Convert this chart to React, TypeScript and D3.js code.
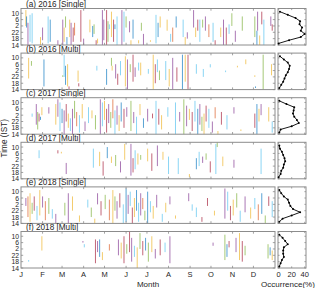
import * as d3 from 'd3'

type Seg = [number, number, number, number] // day, start hour, end hour, colour index

const monthLabels = ['J', 'F', 'M', 'A', 'M', 'J', 'J', 'A', 'S', 'O', 'N', 'D']
const monthStarts = [0, 31, 59, 90, 120, 151, 181, 212, 243, 273, 304, 334]
const hourTicks = [34, 30, 26, 22, 18, 14]
const occTicks = [0, 20, 40]
const panelTitles = [
  '(a) 2016 [Single]',
  '(b) 2016 [Multi]',
  '(c) 2017 [Single]',
  '(d) 2017 [Multi]',
  '(e) 2018 [Single]',
  '(f) 2018 [Multi]',
]
const colors = ['#0072BD', '#D95319', '#EDB120', '#7E2F8E', '#77AC30', '#4DBEEE', '#A2142F']

// occurrence profiles (%), hours 11 ... 15 IST going down the axis
const profileHours = [35, 33, 31, 29, 27, 25, 23, 21, 19, 17, 15]
const profileA = [2, 14, 26, 33, 32, 36, 34, 40, 34, 16, 0]
const profileB = [2, 8, 14, 17, 16, 14, 11, 9, 7, 4, 1]
const profileC = [1, 12, 24, 23, 22, 24, 28, 31, 20, 3, 1]
const profileD = [1, 2, 5, 7, 9, 10, 8, 7, 4, 3, 0]
const profileE = [1, 4, 8, 14, 16, 18, 22, 33, 20, 6, 1]
const profileF = [1, 6, 10, 14, 8, 7, 7, 8, 5, 3, 1]

const eventsA: Seg[] = [
  [7, 26, 36, 2], [8, 25, 32, 0], [10, 14, 28, 3], [13, 16, 33, 5], [16, 15, 34, 5],
  [28, 14, 19, 2], [31, 17, 25, 3], [39, 15, 32, 5], [42, 16, 30, 0], [53, 14, 17, 3],
  [60, 14, 30, 3], [62, 16, 25, 2], [64, 25, 32, 4], [66, 14, 19, 0], [70, 19, 30, 2],
  [72, 14, 28, 3], [75, 16, 25, 6], [77, 20, 28, 1], [86, 16, 36, 6], [90, 14, 18, 3],
  [99, 22, 30, 2], [103, 19, 26, 0], [105, 21, 27, 4], [108, 14, 17, 6], [110, 15, 18, 2],
  [117, 14, 36, 3], [119, 17, 30, 3], [123, 14, 36, 6], [125, 16, 29, 4], [127, 24, 27, 5],
  [130, 19, 35, 2], [133, 16, 30, 6], [135, 24, 27, 0], [138, 14, 32, 5], [145, 14, 36, 3],
  [148, 16, 35, 5], [151, 25, 32, 4], [156, 22, 29, 3], [158, 14, 17, 2], [161, 18, 30, 0],
  [169, 15, 17, 2], [173, 23, 28, 4], [176, 14, 21, 3], [186, 16, 17, 2], [194, 15, 33, 5],
  [197, 19, 28, 0], [200, 25, 32, 2], [210, 23, 30, 2], [215, 16, 21, 5], [218, 16, 25, 1],
  [223, 25, 32, 0], [233, 19, 30, 5], [236, 14, 19, 2], [239, 18, 22, 3], [248, 25, 36, 3],
  [251, 19, 25, 2], [254, 23, 30, 6], [257, 16, 30, 5], [261, 25, 30, 4], [265, 23, 32, 3],
  [270, 19, 27, 1], [276, 16, 28, 5], [279, 14, 17, 6], [287, 19, 25, 2], [291, 14, 30, 3],
  [295, 14, 25, 6], [299, 21, 27, 5], [303, 26, 34, 4], [308, 16, 23, 3], [318, 23, 32, 4],
  [336, 19, 32, 4], [339, 14, 23, 0], [340, 23, 35, 3], [343, 14, 20, 2], [346, 27, 35, 6],
  [349, 14, 30, 5], [359, 26, 32, 3], [361, 23, 27, 6],
]

const eventsB: Seg[] = [
  [11, 21, 34, 2], [15, 29, 32, 4], [33, 16, 33, 0], [60, 22, 23, 4], [62, 22, 36, 5],
  [64, 17, 29, 0], [67, 16, 30, 2], [69, 14, 16, 6], [82, 19, 26, 2], [83, 16, 18, 6],
  [109, 26, 29, 5], [123, 17, 27, 0], [130, 29, 34, 4], [131, 26, 29, 2], [136, 21, 30, 3],
  [139, 17, 24, 6], [143, 23, 32, 5], [150, 16, 35, 2], [153, 14, 33, 3], [157, 25, 30, 4],
  [161, 19, 36, 6], [164, 22, 28, 3], [169, 26, 31, 5], [172, 23, 31, 2], [183, 24, 27, 5],
  [190, 14, 36, 2], [193, 18, 30, 6], [196, 25, 33, 5], [199, 20, 26, 4], [208, 20, 32, 5],
  [213, 16, 27, 2], [218, 14, 34, 3], [224, 19, 28, 6], [232, 14, 36, 0], [236, 19, 36, 2],
  [240, 14, 36, 6], [252, 24, 30, 5], [262, 22, 27, 5], [272, 28, 30, 5], [294, 25, 26, 5],
  [311, 28, 29, 2], [323, 30, 33, 2], [336, 22, 23, 2], [337, 15, 16, 0], [348, 14, 36, 4],
  [360, 23, 30, 2],
]

const eventsC: Seg[] = [
  [16, 25, 27, 5], [22, 20, 33, 3], [24, 17, 28, 4], [26, 22, 27, 6], [28, 23, 25, 0],
  [30, 26, 31, 2], [40, 27, 31, 3], [50, 20, 33, 2], [53, 25, 36, 3], [56, 16, 34, 5],
  [59, 21, 30, 0], [62, 14, 29, 3], [65, 22, 33, 6], [68, 18, 27, 2], [71, 16, 24, 5],
  [74, 14, 30, 3], [77, 24, 35, 4], [80, 19, 28, 1], [84, 15, 26, 5], [88, 24, 33, 2],
  [92, 16, 22, 3], [97, 21, 31, 5], [102, 24, 29, 2], [107, 17, 26, 4], [114, 14, 36, 3],
  [117, 19, 34, 5], [120, 23, 35, 2], [123, 15, 30, 6], [126, 21, 33, 3], [129, 18, 28, 4],
  [132, 24, 36, 1], [135, 14, 29, 5], [138, 20, 32, 3], [141, 16, 26, 2], [144, 22, 34, 0],
  [148, 18, 30, 6], [152, 25, 31, 3], [158, 16, 35, 4], [162, 21, 28, 3], [166, 14, 25, 5],
  [171, 26, 33, 2], [176, 18, 24, 0], [182, 22, 30, 3], [189, 24, 27, 6], [194, 14, 35, 5],
  [198, 20, 30, 6], [202, 17, 26, 2], [211, 25, 31, 5], [222, 14, 34, 5], [228, 22, 28, 3],
  [234, 14, 36, 4], [238, 19, 32, 3], [242, 23, 30, 2], [246, 16, 28, 6], [250, 22, 35, 5],
  [254, 14, 30, 0], [257, 20, 33, 3], [260, 16, 25, 4], [263, 14, 27, 2], [266, 22, 32, 6],
  [270, 18, 30, 5], [275, 15, 22, 3], [279, 24, 31, 1], [283, 14, 16, 2], [288, 20, 28, 6],
  [296, 17, 26, 5], [306, 27, 31, 3], [316, 16, 17, 2], [336, 18, 27, 6], [339, 14, 33, 0],
  [342, 22, 30, 2], [345, 26, 33, 3], [356, 22, 31, 2], [361, 15, 22, 5],
]

const eventsD: Seg[] = [
  [26, 27, 32, 5], [53, 30, 32, 6], [58, 30, 31, 2], [65, 17, 24, 3], [104, 21, 33, 5],
  [113, 22, 31, 2], [118, 16, 25, 6], [124, 27, 34, 0], [130, 24, 28, 2], [136, 22, 29, 4],
  [143, 18, 25, 3], [149, 26, 36, 2], [158, 16, 36, 3], [161, 18, 27, 6], [164, 20, 32, 5],
  [168, 23, 30, 2], [172, 26, 29, 4], [182, 25, 33, 2], [188, 19, 30, 6], [196, 22, 35, 3],
  [204, 26, 31, 2], [212, 17, 28, 5], [226, 17, 27, 5], [242, 15, 17, 2], [252, 20, 27, 0],
  [256, 22, 31, 5], [261, 24, 28, 3], [266, 26, 30, 4], [272, 18, 25, 6], [280, 17, 36, 5],
  [282, 34, 37, 4], [290, 22, 28, 2], [306, 21, 26, 3], [345, 17, 33, 5],
]

const eventsE: Seg[] = [
  [7, 25, 30, 3], [10, 18, 31, 1], [13, 15, 33, 2], [16, 20, 27, 4], [19, 22, 31, 6],
  [23, 16, 25, 5], [27, 19, 35, 2], [31, 24, 31, 3], [35, 16, 28, 1], [40, 20, 30, 4],
  [45, 17, 23, 5], [50, 14, 20, 3], [63, 19, 27, 4], [68, 14, 33, 3], [74, 22, 31, 2],
  [84, 15, 19, 2], [96, 24, 29, 5], [101, 18, 24, 4], [106, 14, 17, 2], [110, 26, 33, 3],
  [115, 19, 28, 6], [121, 23, 32, 4], [127, 16, 29, 1], [132, 14, 35, 2], [135, 22, 31, 4],
  [138, 17, 28, 3], [142, 24, 33, 6], [147, 14, 26, 5], [151, 15, 36, 0], [154, 20, 32, 3],
  [157, 25, 34, 5], [160, 14, 24, 6], [163, 18, 30, 2], [166, 22, 35, 0], [169, 15, 27, 5],
  [172, 19, 33, 3], [175, 23, 30, 1], [178, 16, 22, 4], [182, 14, 34, 0], [186, 21, 28, 5],
  [190, 17, 25, 2], [195, 24, 32, 3], [203, 15, 20, 5], [208, 21, 27, 2], [214, 26, 31, 3],
  [222, 17, 19, 2], [241, 28, 33, 3], [246, 22, 26, 5], [252, 18, 24, 5], [260, 15, 18, 6],
  [268, 25, 30, 6], [278, 19, 22, 2], [293, 17, 36, 3], [297, 22, 34, 5], [301, 16, 25, 6],
  [305, 19, 29, 2], [310, 24, 33, 4], [315, 15, 22, 5], [322, 21, 31, 3], [330, 17, 24, 2],
  [336, 23, 30, 5], [341, 16, 26, 1], [346, 20, 33, 0], [351, 14, 19, 4], [356, 25, 31, 6],
  [361, 18, 28, 5],
]

const eventsF: Seg[] = [
  [11, 18, 19, 5], [30, 25, 34, 2], [89, 30, 31, 3], [91, 27, 29, 5], [107, 17, 32, 6],
  [110, 24, 31, 3], [113, 21, 32, 0], [117, 19, 24, 2], [127, 25, 29, 1], [140, 22, 32, 3],
  [144, 20, 30, 2], [148, 17, 34, 6], [152, 23, 29, 4], [156, 24, 37, 6], [159, 18, 33, 3],
  [163, 21, 28, 5], [167, 14, 27, 2], [171, 26, 36, 4], [175, 22, 31, 6], [179, 25, 33, 0],
  [183, 18, 30, 4], [188, 24, 34, 2], [193, 20, 26, 3], [200, 22, 32, 6], [207, 24, 30, 5],
  [214, 17, 34, 3], [276, 28, 30, 3], [293, 19, 35, 4], [296, 21, 29, 0], [299, 27, 31, 6],
  [309, 24, 33, 3], [314, 19, 36, 2], [318, 18, 31, 6], [322, 22, 28, 4], [355, 20, 29, 4],
  [358, 22, 27, 0], [361, 19, 25, 2],
]

const allEvents = [eventsA, eventsB, eventsC, eventsD, eventsE, eventsF]
const allProfiles = [profileA, profileB, profileC, profileD, profileE, profileF]

const W = 320
const H = 288
const font = 'Liberation Sans, Arial, sans-serif'
const ink = '#262626'
const frame = '#8c8c8c'

const mainLeft = 21
const mainRight = 275
const sideLeft = 278
const sideRight = 306
const firstTop = 8.5
const pitch = 44.6
const panelH = 36.5

const x = d3.scaleLinear().domain([0, 365]).range([mainLeft, mainRight])
const xOcc = d3.scaleLinear().domain([-1, 42]).range([sideLeft, sideRight])

function Panel({ i }: { i: number }) {
  const top = firstTop + i * pitch
  const bottom = top + panelH
  const y = d3.scaleLinear().domain([14, 37]).range([bottom, top])
  const events = allEvents[i]
  const prof = allProfiles[i]
  const line = d3
    .line<number>()
    .x((d) => xOcc(d))
    .y((_, k) => y(profileHours[k]))
  const last = i === 5
  return (
    <g>
      <text x={26} y={top - 1.6} fontSize={8.2} fill={ink} fontFamily={font}>
        {panelTitles[i]}
      </text>
      {/* events */}
      <g strokeWidth={1} strokeOpacity={0.65}>
        {events.map((e, k) => (
          <line
            key={k}
            x1={x(e[0])}
            x2={x(e[0])}
            y1={y(e[1])}
            y2={y(e[2])}
            stroke={colors[e[3]]}
          />
        ))}
      </g>
      {/* main frame and ticks */}
      <rect x={mainLeft} y={top} width={mainRight - mainLeft} height={panelH} fill="none" stroke={frame} strokeWidth={1} />
      {monthStarts.slice(1).map((m) => (
        <g key={m} stroke={frame} strokeWidth={0.8}>
          <line x1={x(m)} x2={x(m)} y1={top} y2={top + 2.2} />
          <line x1={x(m)} x2={x(m)} y1={bottom} y2={bottom - 2.2} />
        </g>
      ))}
      {hourTicks.map((h) => (
        <g key={h}>
          <line x1={mainLeft} x2={mainLeft + 2.2} y1={y(h)} y2={y(h)} stroke={frame} strokeWidth={0.8} />
          <line x1={mainRight} x2={mainRight - 2.2} y1={y(h)} y2={y(h)} stroke={frame} strokeWidth={0.8} />
          <line x1={sideLeft} x2={sideLeft + 1.6} y1={y(h)} y2={y(h)} stroke={frame} strokeWidth={0.8} />
          <line x1={sideRight} x2={sideRight - 1.6} y1={y(h)} y2={y(h)} stroke={frame} strokeWidth={0.8} />
          <text x={mainLeft - 2} y={y(h) + 2.5} fontSize={6.8} textAnchor="end" fill={ink} fontFamily={font}>
            {h % 24}
          </text>
        </g>
      ))}
      {/* occurrence profile */}
      <rect x={sideLeft} y={top} width={sideRight - sideLeft} height={panelH} fill="none" stroke={frame} strokeWidth={1} />
      {occTicks.map((t) => (
        <g key={t} stroke={frame} strokeWidth={0.8}>
          <line x1={xOcc(t)} x2={xOcc(t)} y1={top} y2={top + 1.6} />
          <line x1={xOcc(t)} x2={xOcc(t)} y1={bottom} y2={bottom - 1.6} />
        </g>
      ))}
      <path d={line(prof) ?? ''} fill="none" stroke="#000" strokeWidth={0.9} />
      {prof.map((v, k) => (
        <circle key={k} cx={xOcc(v)} cy={y(profileHours[k])} r={1} fill="#000" />
      ))}
      {last && (
        <g fontFamily={font} fill={ink} fontSize={7.5}>
          {monthStarts.map((m, k) => (
            <text key={k} x={x(m)} y={bottom + 9} textAnchor="middle">
              {monthLabels[k]}
            </text>
          ))}
          {occTicks.map((t) => (
            <text key={t} x={xOcc(t)} y={bottom + 9} textAnchor="middle">
              {t}
            </text>
          ))}
          <text x={(mainLeft + mainRight) / 2} y={bottom + 18.5} textAnchor="middle" fontSize={8}>
            Month
          </text>
          <text x={(sideLeft + sideRight) / 2 - 4} y={bottom + 18.5} textAnchor="middle" fontSize={8}>
            Occurrence(%)
          </text>
        </g>
      )}
    </g>
  )
}

export default function App() {
  const midY = firstTop + (5 * pitch + panelH) / 2
  return (
    <svg
      width={W}
      height={H}
      viewBox={`0 0 ${W} ${H}`}
      style={{ position: 'absolute', left: 0, top: 0, background: '#fff' }}
    >
      <rect width={W} height={H} fill="#fff" />
      {panelTitles.map((_, i) => (
        <Panel key={i} i={i} />
      ))}
      <text
        transform={`translate(6.5,${midY}) rotate(-90)`}
        textAnchor="middle"
        fontSize={8.2}
        fill={ink}
        fontFamily={font}
      >
        Time (IST)
      </text>
    </svg>
  )
}
